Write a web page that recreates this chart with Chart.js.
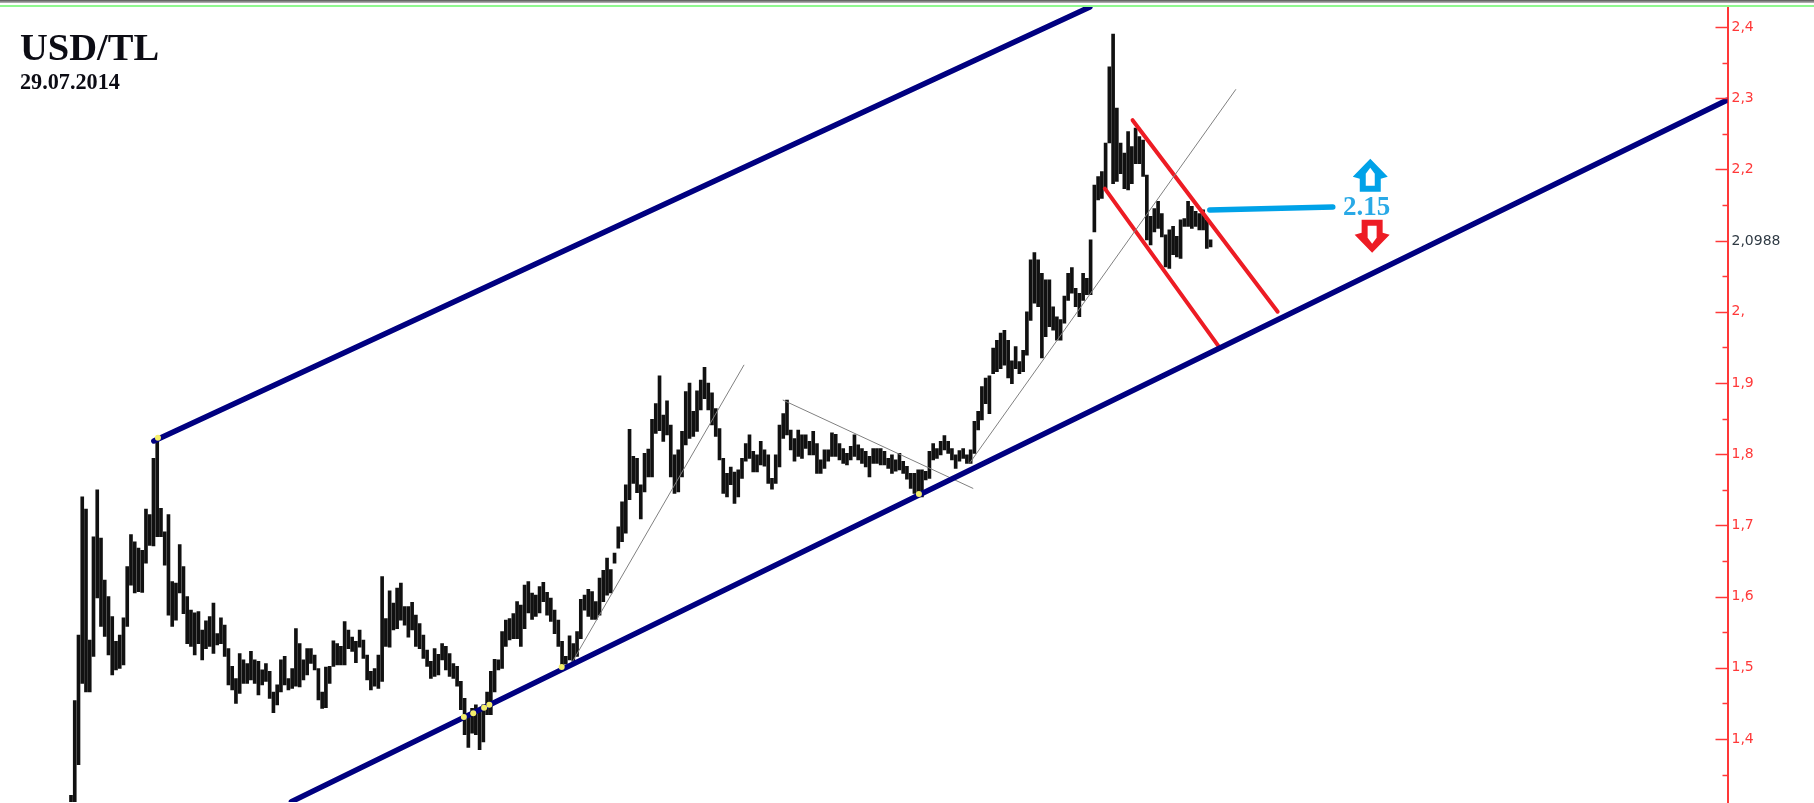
<!DOCTYPE html>
<html>
<head>
<meta charset="utf-8">
<title>USD/TL</title>
<script src="https://cdn.jsdelivr.net/npm/chart.js@4/dist/chart.umd.min.js"></script>
<style>
    html, body { margin: 0; padding: 0; background: #fff; overflow: hidden; }
    #wrap { position: relative; width: 1814px; height: 803px; }
    canvas { display: block; }
    #topbar { position: absolute; left: 0; top: 0; width: 100%; height: 3px; background: linear-gradient(#555, #bbb); }
    #greenline { position: absolute; left: 0; top: 5px; width: 100%; height: 2px; background: #90f890; }
    .head { position: absolute; left: 20px; font-family: "Liberation Serif", serif; font-weight: bold; color: #0c0c14; line-height: 1; }
    #title { top: 28px; font-size: 38.5px; }
    #date { top: 71px; font-size: 22.2px; }
</style>
</head>
<body>
<div id="wrap">
    <canvas id="chart" width="1814" height="803"></canvas>
    <div id="topbar"></div>
    <div id="greenline"></div>
    <div id="title" class="head">USD/TL</div>
    <div id="date" class="head">29.07.2014</div>
</div>
<script>
// one high/low pair per bar
const highs = [
    1.321, 1.454, 1.546, 1.740, 1.723, 1.539, 1.684, 1.750, 1.682, 1.623, 1.600, 1.572, 1.537, 1.546, 1.570, 1.642, 1.687,
    1.677, 1.668, 1.665, 1.723, 1.715, 1.794, 1.820, 1.724, 1.691, 1.715, 1.621, 1.619, 1.673, 1.642, 1.600, 1.581, 1.577,
    1.579, 1.553, 1.566, 1.572, 1.591, 1.548, 1.570, 1.560, 1.527, 1.502, 1.485, 1.520, 1.511, 1.506, 1.523, 1.511, 1.509,
    1.497, 1.506, 1.495, 1.466, 1.476, 1.511, 1.516, 1.485, 1.499, 1.555, 1.534, 1.511, 1.527, 1.527, 1.518, 1.499, 1.466,
    1.501, 1.502, 1.538, 1.534, 1.530, 1.565, 1.553, 1.543, 1.537, 1.553, 1.539, 1.518, 1.495, 1.499, 1.518, 1.628, 1.569,
    1.608, 1.591, 1.612, 1.619, 1.586, 1.586, 1.592, 1.574, 1.562, 1.546, 1.525, 1.509, 1.527, 1.519, 1.534, 1.530, 1.520,
    1.506, 1.502, 1.481, 1.457, 1.431, 1.443, 1.448, 1.441, 1.448, 1.466, 1.495, 1.512, 1.511, 1.551, 1.567,
    1.569, 1.576, 1.593, 1.588, 1.616, 1.621, 1.605, 1.602, 1.614, 1.620, 1.606, 1.598, 1.581, 1.567, 1.537, 1.516, 1.545,
    1.534, 1.551, 1.596, 1.602, 1.610, 1.607, 1.593, 1.626, 1.637, 1.654, 1.638, 1.661, 1.698,
    1.733, 1.757, 1.835, 1.797, 1.794, 1.757, 1.801, 1.807, 1.849, 1.871, 1.910, 1.855, 1.875, 1.841, 1.799, 1.806, 1.832,
    1.888, 1.900, 1.860, 1.889, 1.904, 1.922, 1.900, 1.886, 1.864, 1.836, 1.794, 1.773, 1.782, 1.775, 1.778, 1.794, 1.815,
    1.827, 1.804, 1.799, 1.818, 1.806, 1.799, 1.766, 1.799, 1.841, 1.857, 1.876, 1.834, 1.822, 1.834, 1.827, 1.827, 1.818,
    1.832, 1.815, 1.792, 1.806, 1.806, 1.830, 1.828, 1.815, 1.808, 1.801, 1.811, 1.827, 1.813, 1.808, 1.804, 1.797, 1.808, 1.808,
    1.808, 1.804, 1.794, 1.799, 1.792, 1.801, 1.790, 1.783, 1.773, 1.773, 1.778, 1.778, 1.776, 1.804, 1.815, 1.808, 1.818,
    1.826, 1.818, 1.808, 1.799, 1.805, 1.808, 1.799, 1.806,
    1.846, 1.860, 1.895, 1.907, 1.910, 1.949, 1.960, 1.970, 1.974, 1.960, 1.931, 1.951, 1.930, 1.946, 2.000, 2.073, 2.083,
    2.073, 2.054, 2.045, 2.045, 2.007, 1.993, 1.989, 2.022, 2.054, 2.062, 2.033, 2.026, 2.054, 2.047, 2.101,
    2.178, 2.190, 2.197, 2.237, 2.344, 2.390, 2.286, 2.237, 2.223, 2.253, 2.232, 2.258, 2.246, 2.241, 2.192, 2.134, 2.145,
    2.155, 2.138, 2.108, 2.115, 2.120, 2.106, 2.129, 2.131, 2.155, 2.148, 2.141, 2.138, 2.143, 2.129, 2.101
];
const lows = [
    1.312, 1.312, 1.364, 1.478, 1.466, 1.466, 1.516, 1.598, 1.558, 1.544, 1.518, 1.490, 1.497, 1.499, 1.504, 1.558, 1.616,
    1.605, 1.607, 1.606, 1.647, 1.672, 1.671, 1.684, 1.684, 1.644, 1.574, 1.558, 1.567, 1.605, 1.576, 1.534, 1.530, 1.518,
    1.534, 1.511, 1.527, 1.530, 1.520, 1.532, 1.534, 1.516, 1.476, 1.469, 1.450, 1.464, 1.478, 1.478, 1.483, 1.478, 1.462,
    1.476, 1.481, 1.457, 1.437, 1.448, 1.466, 1.476, 1.469, 1.471, 1.474, 1.473, 1.483, 1.490, 1.506, 1.497, 1.455, 1.443,
    1.444, 1.478, 1.502, 1.504, 1.504, 1.504, 1.527, 1.523, 1.507, 1.529, 1.513, 1.483, 1.469, 1.474, 1.471, 1.481, 1.530,
    1.529, 1.553, 1.555, 1.567, 1.560, 1.543, 1.553, 1.530, 1.527, 1.513, 1.502, 1.485, 1.488, 1.490, 1.511, 1.497, 1.488,
    1.485, 1.474, 1.441, 1.406, 1.388, 1.408, 1.406, 1.385, 1.396, 1.434, 1.434, 1.466, 1.497, 1.499, 1.530,
    1.539, 1.541, 1.541, 1.530, 1.555, 1.577, 1.568, 1.572, 1.577, 1.593, 1.574, 1.565, 1.548, 1.530, 1.502, 1.505, 1.511,
    1.509, 1.516, 1.541, 1.581, 1.572, 1.568, 1.568, 1.574, 1.593, 1.602, 1.605, 1.647, 1.668,
    1.677, 1.689, 1.736, 1.759, 1.746, 1.709, 1.747, 1.768, 1.768, 1.829, 1.833, 1.818, 1.827, 1.768, 1.745, 1.747, 1.768,
    1.813, 1.822, 1.825, 1.832, 1.862, 1.878, 1.862, 1.841, 1.825, 1.792, 1.745, 1.740, 1.757, 1.731, 1.740, 1.766, 1.790,
    1.794, 1.775, 1.775, 1.785, 1.783, 1.759, 1.751, 1.759, 1.782, 1.822, 1.827, 1.806, 1.790, 1.797, 1.794, 1.808, 1.799,
    1.799, 1.773, 1.773, 1.780, 1.790, 1.797, 1.797, 1.792, 1.787, 1.785, 1.792, 1.797, 1.792, 1.787, 1.782, 1.768, 1.787, 1.787,
    1.785, 1.785, 1.780, 1.773, 1.776, 1.778, 1.773, 1.765, 1.752, 1.745, 1.745, 1.740, 1.764, 1.766, 1.792, 1.794, 1.799,
    1.806, 1.801, 1.792, 1.780, 1.790, 1.794, 1.787, 1.787,
    1.801, 1.834, 1.848, 1.871, 1.857, 1.913, 1.916, 1.920, 1.925, 1.907, 1.899, 1.920, 1.913, 1.916, 1.939, 1.988, 2.012,
    2.007, 1.935, 1.965, 1.979, 1.974, 1.960, 1.960, 1.984, 2.016, 2.026, 2.007, 1.993, 2.016, 2.024, 2.024,
    2.112, 2.157, 2.159, 2.171, 2.237, 2.180, 2.183, 2.194, 2.173, 2.171, 2.180, 2.208, 2.208, 2.190, 2.101, 2.094, 2.112,
    2.117, 2.105, 2.063, 2.061, 2.080, 2.077, 2.075, 2.120, 2.120, 2.117, 2.120, 2.115, 2.115, 2.089, 2.091
];

// right axis
const tickValues = [2.4, 2.3, 2.2, 2.0988, 2, 1.9, 1.8, 1.7, 1.6, 1.5, 1.4];
const tickLabels = ['2,4', '2,3', '2,2', '2,0988', '2,', '1,9', '1,8', '1,7', '1,6', '1,5', '1,4'];
const minorTicks = [2.35, 2.25, 2.15, 2.05, 1.95, 1.85, 1.75, 1.65, 1.55, 1.45, 1.35];

// trend lines drawn on the chart, [bar index, price]
const channelTop = [[22.1, 1.8185], [271.8, 2.428]];
const channelBottom = [[58.8, 1.312], [441.7, 2.297]];
const thinLine1 = [[133.6, 1.507], [179.5, 1.925]];
const thinLine2 = [[189.9, 1.876], [240.6, 1.752]];
const thinLine3 = [[239.8, 1.788], [310.7, 2.312]];
const redLine1 = [[283.2, 2.269], [321.9, 2.0]];
const redLine2 = [[275.8, 2.173], [306.5, 1.949]];
const levelLine = [[303.8, 2.143], [336.6, 2.147]];
const touchPoints = [[23.2, 1.823], [104.8, 1.431], [107.3, 1.436], [110.2, 1.444], [111.6, 1.448], [130.9, 1.501], [226.2, 1.744]];

const levelText = '2.15';
const levelTextPos = [345.6, 2.136];
const arrowUpPos = [346.6, 2.215];
const arrowDownPos = [347.1, 2.083];

function toPoints(list) {
    return list.map(p => ({ x: p[0], y: p[1] }));
}

function lineSet(list, color, width) {
    return {
        type: 'line',
        data: toPoints(list),
        borderColor: color,
        borderWidth: width,
        borderCapStyle: 'round',
        pointRadius: 0,
        order: 1
    };
}

function drawArrow(ctx, cx, tip, dir, color) {
    ctx.fillStyle = color;
    ctx.beginPath();
    ctx.moveTo(cx, tip);
    ctx.lineTo(cx + 17.5, tip + dir * 18);
    ctx.lineTo(cx + 10.5, tip + dir * 20);
    ctx.lineTo(cx + 10.5, tip + dir * 33);
    ctx.lineTo(cx - 10.5, tip + dir * 33);
    ctx.lineTo(cx - 10.5, tip + dir * 20);
    ctx.lineTo(cx - 17.5, tip + dir * 18);
    ctx.closePath();
    ctx.fill();
    ctx.fillStyle = '#fff';
    ctx.beginPath();
    ctx.moveTo(cx, tip + dir * 9);
    ctx.lineTo(cx + 4.5, tip + dir * 15);
    ctx.lineTo(cx + 4.5, tip + dir * 27);
    ctx.lineTo(cx - 4.5, tip + dir * 27);
    ctx.lineTo(cx - 4.5, tip + dir * 15);
    ctx.closePath();
    ctx.fill();
}

const extras = {
    id: 'extras',
    afterDraw(chart) {
        const { ctx, scales } = chart;
        const x = scales.x, y = scales.y;

        // axis tick marks point left into the plot
        ctx.save();
        ctx.strokeStyle = '#ff3838';
        ctx.lineWidth = 1.5;
        tickValues.forEach(v => {
            const py = Math.round(y.getPixelForValue(v)) + 0.5;
            ctx.beginPath();
            ctx.moveTo(y.left - 12, py);
            ctx.lineTo(y.left, py);
            ctx.stroke();
        });
        minorTicks.forEach(v => {
            const py = Math.round(y.getPixelForValue(v)) + 0.5;
            ctx.beginPath();
            ctx.moveTo(y.left - 5, py);
            ctx.lineTo(y.left, py);
            ctx.stroke();
        });

        drawArrow(ctx, x.getPixelForValue(arrowUpPos[0]), y.getPixelForValue(arrowUpPos[1]), 1, '#00a2e8');
        drawArrow(ctx, x.getPixelForValue(arrowDownPos[0]), y.getPixelForValue(arrowDownPos[1]), -1, '#ed1c24');

        ctx.fillStyle = '#29a9e6';
        ctx.font = 'bold 27px "Liberation Serif"';
        ctx.textAlign = 'center';
        ctx.textBaseline = 'alphabetic';
        ctx.fillText(levelText, x.getPixelForValue(levelTextPos[0]), y.getPixelForValue(levelTextPos[1]));
        ctx.restore();
    }
};

new Chart(document.getElementById('chart').getContext('2d'), {
    type: 'bar',
    data: {
        datasets: [
            lineSet(channelTop, '#000080', 5.5),
            lineSet(channelBottom, '#000080', 5.5),
            lineSet(thinLine1, '#808080', 1),
            lineSet(thinLine2, '#808080', 1),
            lineSet(thinLine3, '#808080', 1),
            lineSet(redLine1, '#ed1c24', 4),
            lineSet(redLine2, '#ed1c24', 4),
            lineSet(levelLine, '#00a2e8', 5.5),
            {
                type: 'scatter',
                data: toPoints(touchPoints),
                pointRadius: 3,
                pointBackgroundColor: '#f4ee6a',
                pointBorderWidth: 0,
                order: 0
            },
            {
                data: highs.map((h, i) => ({ x: i, y: [lows[i], h] })),
                backgroundColor: '#111',
                barThickness: 3,
                order: 2
            }
        ]
    },
    options: {
        responsive: false,
        animation: false,
        layout: { autoPadding: false, padding: { top: 7, bottom: 1 } },
        plugins: { legend: { display: false }, tooltip: { enabled: false }, title: { display: false } },
        scales: {
            x: { type: 'linear', display: false, offset: false, min: -18.94, max: 441.9, grid: { display: false } },
            y: {
                position: 'right',
                min: 1.3115,
                max: 2.428,
                afterBuildTicks: axis => { axis.ticks = tickValues.map(v => ({ value: v })); },
                // no room kept for half a label above and below the axis
                afterFit: axis => {
                    axis.width = 86.5;
                    axis.paddingTop = 0;
                    axis.paddingBottom = 0;
                },
                border: { color: '#ff3838', width: 2 },
                grid: { drawOnChartArea: false, drawTicks: false },
                ticks: {
                    autoSkip: false,
                    padding: 4,
                    font: { family: '"DejaVu Sans"', size: 14 },
                    color: ctx => ctx.tick.value === 2.0988 ? '#2f3a44' : '#ff3838',
                    callback: value => tickLabels[tickValues.indexOf(value)]
                }
            }
        }
    },
    plugins: [extras]
});
</script>
</body>
</html>
